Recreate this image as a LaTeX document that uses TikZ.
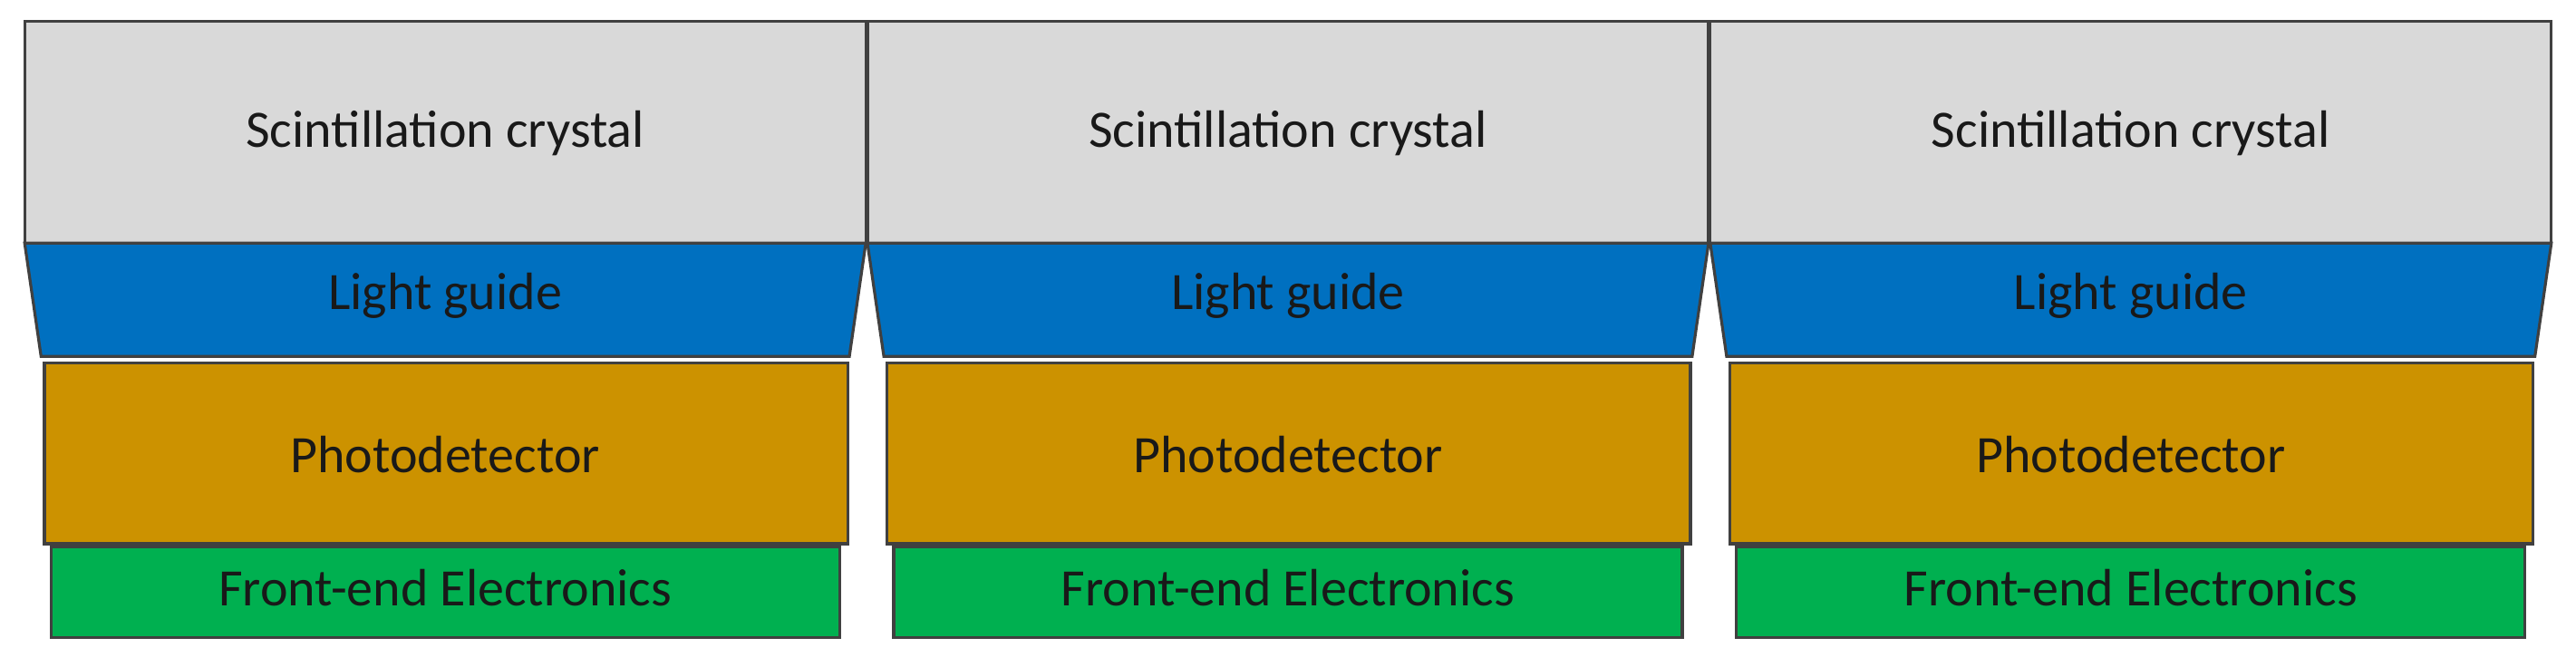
\documentclass[tikz,border=0pt]{standalone}
\usepackage{fontspec}
\setmainfont{Carlito}
\begin{document}
\begin{tikzpicture}[x=0.01cm,y=-0.01cm,
 box/.style={draw=black!75,line width=0.5pt},
 lbl/.style={font=\fontsize{9.1}{11}\selectfont,text=black!90}]
\useasboundingbox (0,0) rectangle (1568,406);
\definecolor{cgray}{HTML}{D9D9D9}
\definecolor{cblue}{HTML}{0070C0}
\definecolor{corange}{HTML}{CC9200}
\definecolor{cgreen}{HTML}{00B050}
\foreach \i/\x in {0/15,1/528,2/1041}{
 \path[box,fill=cgray] (\x,13) rectangle ++(512,135);
 \node[lbl] (sc\i) at (\x+256,81) {Scintillation crystal};
 \path[box,fill=cblue] (\x,148) -- (\x+512,148) -- (\x+502,217) -- (\x+10,217) -- cycle;
 \node[lbl] (lg\i) at (\x+256,180) {Light guide};
 \path[box,fill=corange] (\x+12,221) rectangle (\x+501,331);
 \node[lbl] (pd\i) at (\x+256,277) {Photodetector};
 \path[box,fill=cgreen] (\x+16,333) rectangle (\x+496,388);
 \node[lbl] (fe\i) at (\x+256,358) {Front-end Electronics};
}
\end{tikzpicture}
\end{document}
